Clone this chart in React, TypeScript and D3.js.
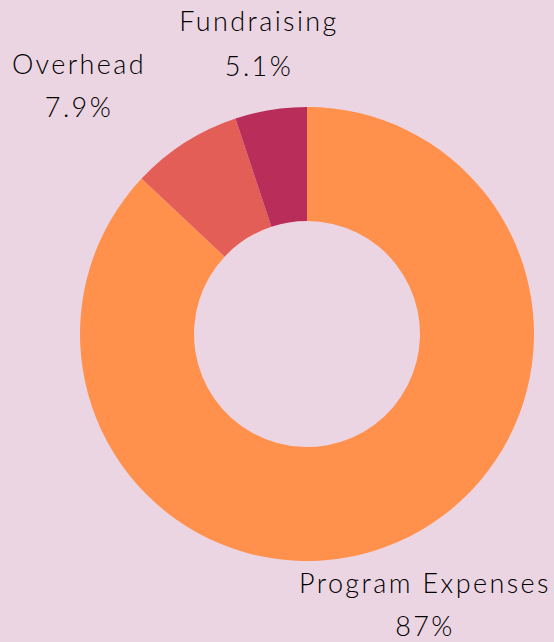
import React from "react";
import * as d3 from "d3";

const categories = ["Program Expenses", "Overhead", "Fundraising"];
const values = [87, 7.9, 5.1];
const valueLabels = ["87%", "7.9%", "5.1%"];
const colors = ["#FF914D", "#E25E56", "#B92D5B"];

const W = 554;
const H = 642;
const cx = 307;
const cy = 334;
const outerR = 227;
const innerR = 113;

// label anchor positions (name baseline, value baseline)
const labelPos = [
  { x: 425, y1: 593, y2: 636 },
  { x: 79, y1: 74, y2: 117 },
  { x: 259, y1: 31, y2: 76 },
];

export default function App() {
  const pie = d3.pie<number>().sort(null).value((d) => d)(values);
  const arc = d3.arc<d3.PieArcDatum<number>>().innerRadius(innerR).outerRadius(outerR);
  return (
    <svg
      width={W}
      height={H}
      style={{ position: "absolute", left: 0, top: 0, background: "#ECD5E3" }}
    >
      <rect width={W} height={H} fill="#ECD5E3" />
      <g transform={`translate(${cx},${cy})`}>
        {pie.map((p, i) => (
          <path key={categories[i]} d={arc(p) || ""} fill={colors[i]} />
        ))}
      </g>
      {categories.map((c, i) => (
        <g
          key={c}
          fontFamily="Lato, 'Open Sans', sans-serif"
          fontWeight={300}
          fontSize={27}
          letterSpacing={2.4}
          fill="#000"
          textAnchor="middle"
        >
          <text x={labelPos[i].x} y={labelPos[i].y1}>{c}</text>
          <text x={labelPos[i].x} y={labelPos[i].y2}>{valueLabels[i]}</text>
        </g>
      ))}
    </svg>
  );
}
